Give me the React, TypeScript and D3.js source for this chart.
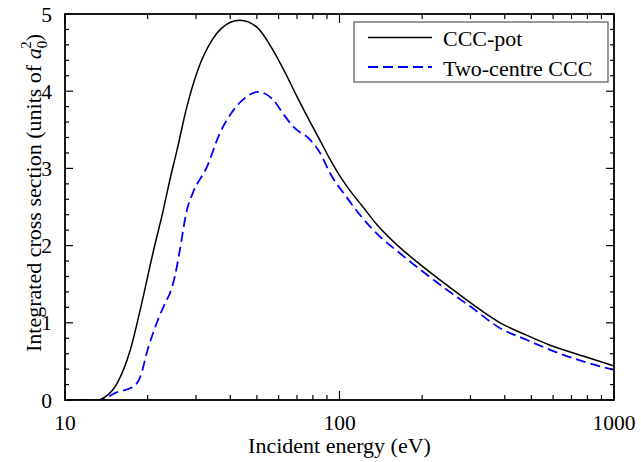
import React from "react";
import * as d3 from "d3";

const cccPotE = [10, 13.2, 14.0, 15.5, 17.3, 18.8, 20.9, 22.8, 24.1, 25.6, 27.8, 30.3, 34.6, 39.9, 43.4, 50, 57.3, 63.2, 70, 78.2, 85, 92.3, 100.4, 111, 121.8, 137, 163, 196, 252, 311, 385, 480, 585, 771, 1000];
const cccPotV = [0, 0, 0.04, 0.22, 0.65, 1.17, 1.9, 2.46, 2.85, 3.24, 3.8, 4.25, 4.68, 4.89, 4.92, 4.83, 4.53, 4.25, 3.93, 3.6, 3.36, 3.12, 2.9, 2.68, 2.5, 2.27, 2.0, 1.76, 1.46, 1.22, 1.0, 0.84, 0.71, 0.57, 0.44];

const twoCentreE = [10, 13.4, 15.2, 18, 18.8, 20, 21.6, 23.5, 24.1, 25.2, 26.2, 27.8, 29.2, 32.9, 36.7, 39.9, 44.5, 50.5, 57.3, 62, 67.8, 78.2, 85, 92.3, 106, 121.8, 140, 166, 200, 250, 300, 385, 480, 585, 771, 1000];
const twoCentreV = [0, 0, 0.09, 0.19, 0.3, 0.65, 1.0, 1.3, 1.38, 1.62, 1.94, 2.46, 2.68, 3.02, 3.46, 3.69, 3.89, 3.99, 3.89, 3.72, 3.54, 3.37, 3.2, 2.94, 2.63, 2.35, 2.12, 1.9, 1.67, 1.41, 1.21, 0.93, 0.78, 0.65, 0.5, 0.39];

const xMajorTicks = [10, 100, 1000];
const xMinorTicks = [20, 30, 40, 50, 60, 70, 80, 90, 200, 300, 400, 500, 600, 700, 800, 900];
const yMajorTicks = [0, 1, 2, 3, 4, 5];
const yMinorTicks = d3.range(0, 5.001, 0.2).filter((v) => Math.abs(v - Math.round(v)) > 1e-6);

const seriesNames = ["CCC-pot", "Two-centre CCC"];

const FONT = "'Liberation Serif', 'Times New Roman', serif";

export default function App() {
  const W = 641, H = 462;
  const left = 65, right = 614, top = 14, bottom = 400;
  const x = d3.scaleLog().domain([10, 1000]).range([left, right]);
  const y = d3.scaleLinear().domain([0, 5]).range([bottom, top]);

  const line = (E: number[], V: number[]) =>
    d3.line<number>()
      .x((_, i) => x(E[i]))
      .y((_, i) => y(V[i]))
      .curve(d3.curveMonotoneX)(E)!;

  return (
    <svg width={W} height={H} style={{ position: "absolute", left: 0, top: 0 }} fontFamily={FONT}>
      <rect width={W} height={H} fill="white" />
      <defs>
        <clipPath id="plot">
          <rect x={left} y={top - 2} width={right - left} height={bottom - top + 2} />
        </clipPath>
      </defs>
      <g clipPath="url(#plot)">
        <path d={line(twoCentreE, twoCentreV)} fill="none" stroke="#0000ff" strokeWidth={1.8} strokeDasharray="10,5" />
        <path d={line(cccPotE, cccPotV)} fill="none" stroke="black" strokeWidth={1.5} />
      </g>
      <rect x={left} y={top} width={right - left} height={bottom - top} fill="none" stroke="black" strokeWidth={1.8} />
      {xMajorTicks.map((t) => (
        <g key={"xM" + t}>
          <line x1={x(t)} x2={x(t)} y1={bottom} y2={bottom - 9} stroke="black" strokeWidth={1.2} />
          <line x1={x(t)} x2={x(t)} y1={top} y2={top + 9} stroke="black" strokeWidth={1.2} />
          <text x={x(t)} y={430} textAnchor="middle" fontSize={21.5}>{t}</text>
        </g>
      ))}
      {xMinorTicks.map((t) => (
        <g key={"xm" + t}>
          <line x1={x(t)} x2={x(t)} y1={bottom} y2={bottom - 5} stroke="black" strokeWidth={1.2} />
          <line x1={x(t)} x2={x(t)} y1={top} y2={top + 5} stroke="black" strokeWidth={1.2} />
        </g>
      ))}
      {yMajorTicks.map((t) => (
        <g key={"yM" + t}>
          <line x1={left} x2={left + 8} y1={y(t)} y2={y(t)} stroke="black" strokeWidth={1.2} />
          <line x1={right} x2={right - 8} y1={y(t)} y2={y(t)} stroke="black" strokeWidth={1.2} />
          <text x={52} y={y(t) + 7.5} textAnchor="end" fontSize={21.5}>{t}</text>
        </g>
      ))}
      {yMinorTicks.map((t) => (
        <g key={"ym" + t}>
          <line x1={left} x2={left + 4} y1={y(t)} y2={y(t)} stroke="black" strokeWidth={1.2} />
          <line x1={right} x2={right - 4} y1={y(t)} y2={y(t)} stroke="black" strokeWidth={1.2} />
        </g>
      ))}
      <text x={(left + right) / 2} y={453} textAnchor="middle" fontSize={22}>Incident energy (eV)</text>
      <text transform={`translate(41, ${(top + bottom) / 2 - 14}) rotate(-90)`} textAnchor="middle" fontSize={22}>
        Integrated cross section (units of <tspan fontStyle="italic">a</tspan>
        <tspan fontSize={15} dy={6}>0</tspan>
        <tspan fontSize={15} dx={-8} dy={-16}>2</tspan>
        <tspan dy={10}>)</tspan>
      </text>
      <rect x={354} y={22} width={254} height={60} fill="white" stroke="#555" strokeWidth={1.2} />
      <line x1={368} x2={432} y1={37.5} y2={37.5} stroke="black" strokeWidth={1.5} />
      <text x={443} y={46} fontSize={22}>{seriesNames[0]}</text>
      <line x1={368} x2={432} y1={67} y2={67} stroke="#0000ff" strokeWidth={1.8} strokeDasharray="10,5" />
      <text x={443} y={75.5} fontSize={22}>{seriesNames[1]}</text>
    </svg>
  );
}
